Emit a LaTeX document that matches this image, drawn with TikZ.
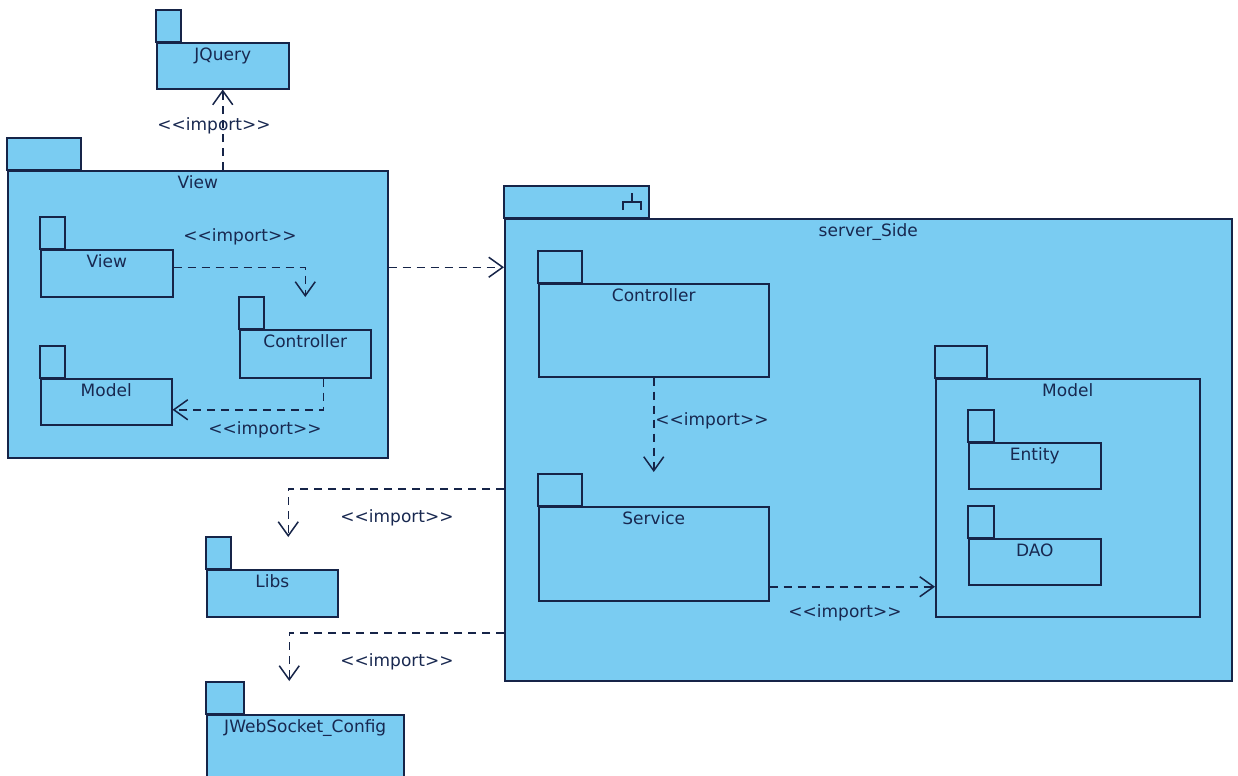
\documentclass[tikz,border=0pt]{standalone}
\usepackage{fontspec}
\setmainfont{DejaVu Sans}
\usepackage{tikz}
\usetikzlibrary{calc, positioning, arrows.meta}
\usepackage{xcolor}
\definecolor{pkgFill}{RGB}{122, 204, 242}
\definecolor{pkgLine}{RGB}{22, 36, 72}
\definecolor{pkgText}{RGB}{24, 40, 80}

% package: name, x, y (body top left), width, height, tab width, title
\newcommand{\pkgbox}[7]{%
  \node[pkg, minimum width=#4*0.5pt, minimum height=#5*0.5pt] (#1) at (#2,#3) {};
  \draw[pkgtab] (#1.north west) rectangle ++(#6,-32);
  \node[pkgname] at (#1.north) {#7};
}
\newcommand{\stereo}[1]{<{}<#1>{}>}

\begin{document}
\begin{tikzpicture}[x=0.5pt, y=-0.5pt, font=\fontsize{8.5}{10}\selectfont, >=Stealth,
  pkg/.style={draw=pkgLine, fill=pkgFill, line width=0.75pt, anchor=north west, inner sep=0pt},
  pkgtab/.style={draw=pkgLine, fill=pkgFill, line width=0.75pt},
  pkgname/.style={anchor=north, inner sep=2.5pt, text=pkgText},
  dep/.style={draw=pkgLine, line width=0.75pt, dash pattern=on 4pt off 3pt,
    -{Straight Barb[length=7pt, width=10pt]}},
  imp/.style={text=pkgText, inner sep=0pt}]
  \useasboundingbox (0,0) rectangle (1238,776);
  \clip (0,0) rectangle (1238,776);

  % Client side packages
  \pkgbox{jquery}{156}{42}{132}{46}{25}{JQuery}
  \pkgbox{vOuter}{7}{170}{380}{287}{74}{View}
  \pkgbox{vView}{40}{249}{132}{47}{25}{View}
  \pkgbox{vCtrl}{239}{329}{131}{48}{25}{Controller}
  \pkgbox{vModel}{40}{378}{131}{46}{25}{Model}
  \pkgbox{libs}{206}{569}{131}{47}{25}{Libs}
  \pkgbox{jws}{206}{714}{197}{90}{38}{JWebSocket\_Config}

  % Server side, with subsystem mark in the tab
  \pkgbox{server}{504}{218}{727}{462}{145}{server\_Side}
  \draw[pkgLine, line width=0.75pt] (632,193) -- (632,202)
    (623,210) -- (623,202) -- (641,202) -- (641,210);
  \pkgbox{sCtrl}{538}{283}{230}{93}{44}{Controller}
  \pkgbox{sService}{538}{506}{230}{94}{44}{Service}
  \pkgbox{sModel}{935}{378}{264}{238}{52}{Model}
  \pkgbox{sEntity}{968}{442}{132}{46}{26}{Entity}
  \pkgbox{sDao}{968}{538}{132}{46}{26}{DAO}

  % Helper points
  \coordinate (viewOut) at ([yshift=3pt]vView.east);
  \coordinate (ctrlIn) at ([yshift=16pt]vCtrl.north);
  \coordinate (ctrlOut) at ([xshift=9pt]vCtrl.south);
  \coordinate (modelIn) at ([yshift=-4pt]vModel.east);
  \coordinate (libsIn) at ([xshift=8pt, yshift=16pt]libs.north);
  \coordinate (libsOut) at ([yshift=40pt]libs.north -| server.west);
  \coordinate (jwsIn) at ([xshift=-8pt, yshift=16.5pt]jws.north);
  \coordinate (jwsOut) at ([yshift=40.5pt]jws.north -| server.west);
  \coordinate (svcOut) at ([yshift=-16.5pt]sService.east);

  % Dependencies
  \draw[dep] (vOuter.north -| jquery.south) -- (jquery.south);
  \draw[dep] (viewOut) -| (ctrlIn);
  \draw[dep] (ctrlOut) |- (modelIn);
  \draw[dep] (viewOut -| vOuter.east) -- (viewOut -| server.west);
  \draw[dep] (libsOut) -| (libsIn);
  \draw[dep] (jwsOut) -| (jwsIn);
  \draw[dep] (sCtrl.south) -- ([yshift=17pt]sService.north);
  \draw[dep] (svcOut) -- (svcOut -| sModel.west);

  % Stereotype labels
  \node[imp] at (214,126) {\stereo{import}};
  \node[imp] at (240,237) {\stereo{import}};
  \node[imp] at (265,430) {\stereo{import}};
  \node[imp] at (712,421) {\stereo{import}};
  \node[imp] at (845,613) {\stereo{import}};
  \node[imp] at (397,518) {\stereo{import}};
  \node[imp] at (397,662) {\stereo{import}};
\end{tikzpicture}
\end{document}
